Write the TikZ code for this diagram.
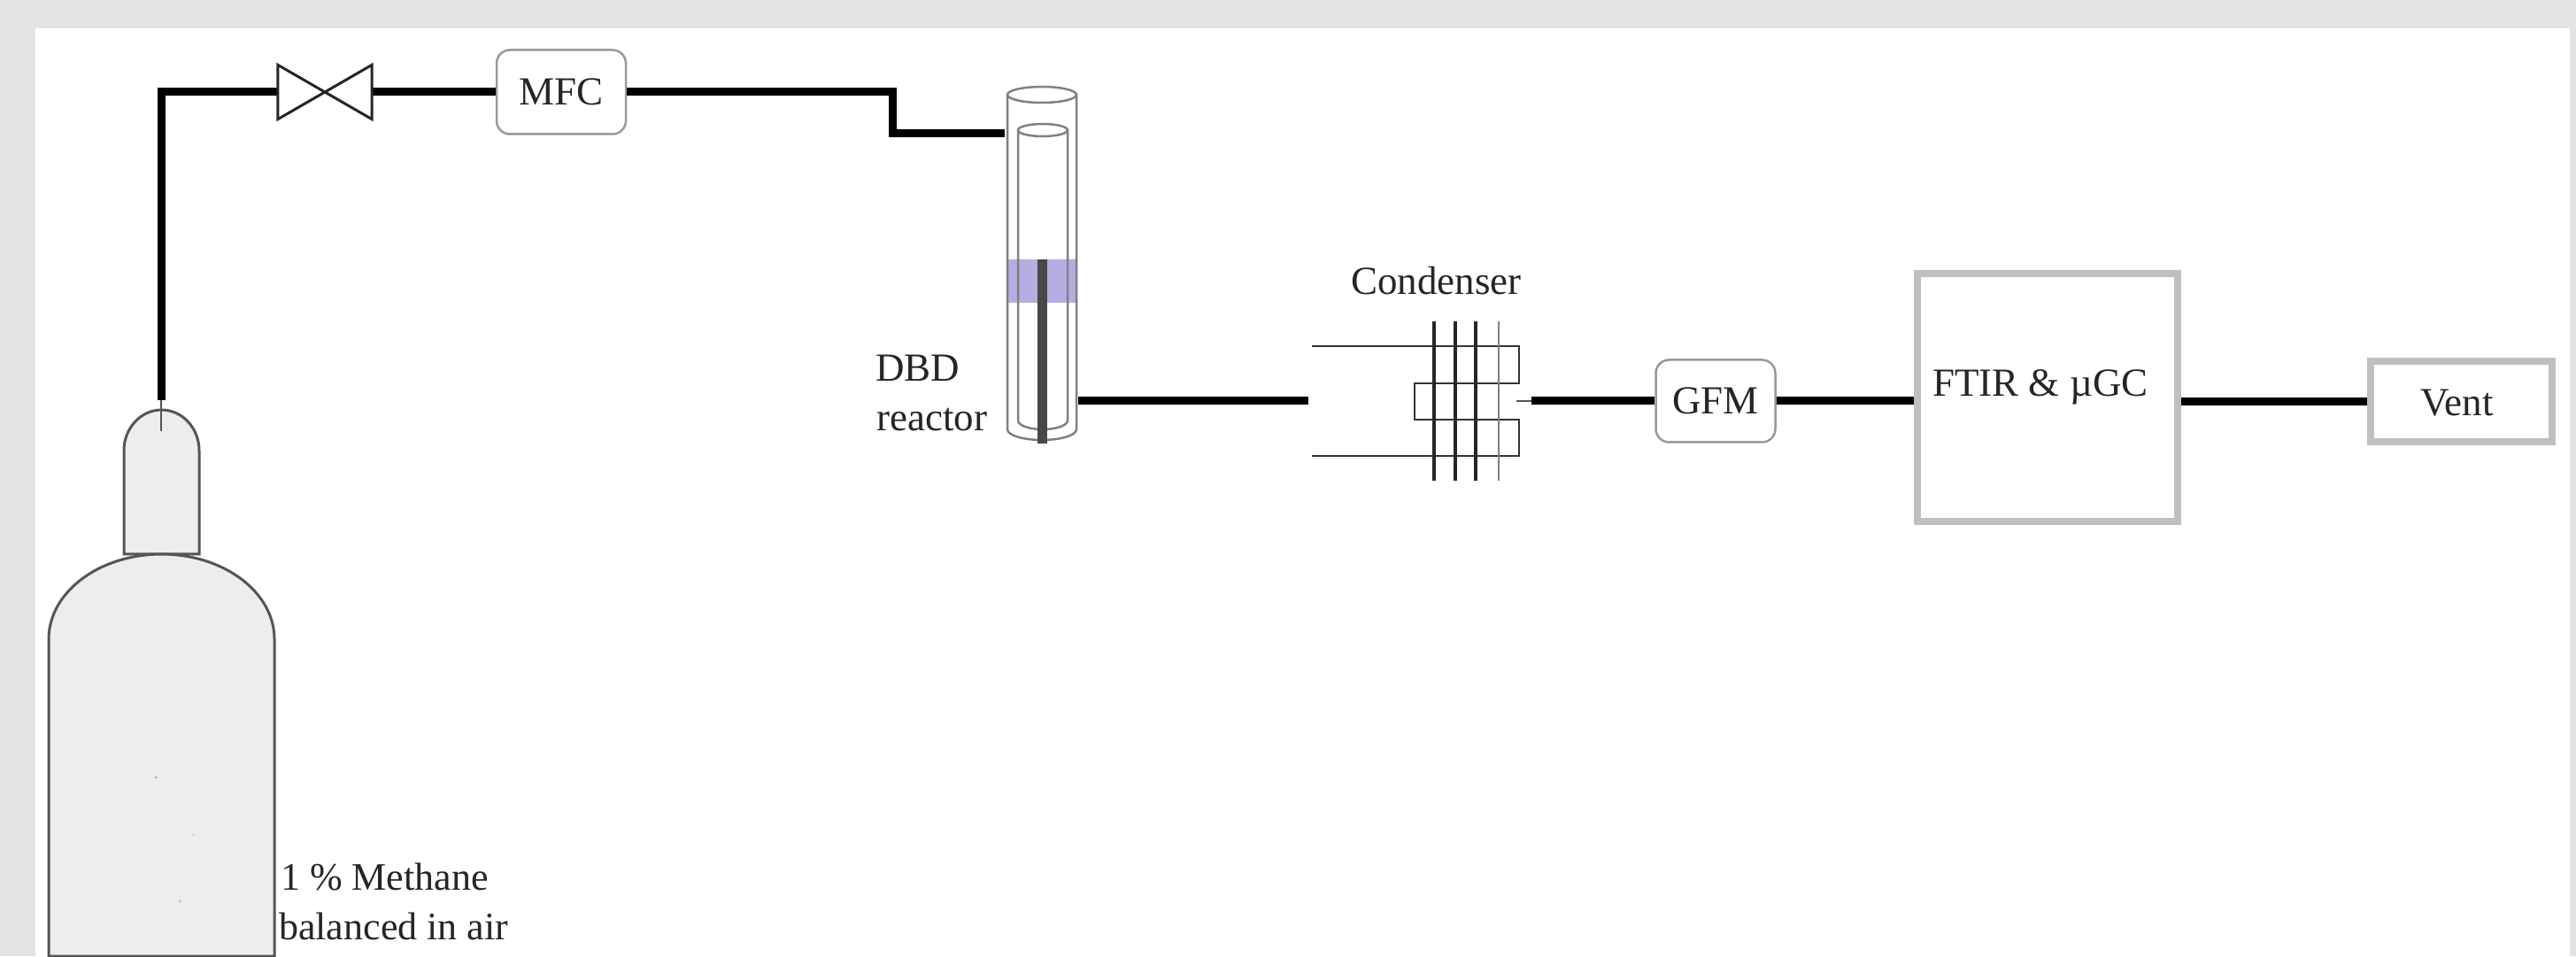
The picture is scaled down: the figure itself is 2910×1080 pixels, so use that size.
\documentclass[tikz,border=0pt]{standalone}
\usepackage{fontspec}
\setmainfont{Liberation Serif}
\definecolor{pagegray}{HTML}{E3E3E3}
\definecolor{bottlegray}{HTML}{EDEDED}
\definecolor{edgegray}{HTML}{555555}
\definecolor{boxgray}{HTML}{BFBFBF}
\definecolor{glassgray}{HTML}{808080}
\definecolor{plasma}{HTML}{B5ADE2}
\definecolor{rodgray}{HTML}{484848}
\definecolor{inkgray}{HTML}{262626}
\tikzset{
  pipe/.style = {line width = 9pt},
  thinpipe/.style = {line width = 2.5pt, draw = edgegray},
  roundbox/.style = {draw = gray!80, line width = 2.5pt, rounded corners = 15pt, fill = white, inner sep = 0pt},
  graybox/.style = {draw = boxgray, line width = 8pt, fill = white, inner sep = 0pt},
  glass/.style = {draw = glassgray, line width = 2.5pt},
  coil/.style = {draw = black!80, line width = 2.5pt},
  fin/.style = {draw = black!85, line width = 3.5pt},
  tag/.style = {inner sep = 0pt, anchor = base west, font = \fontsize{45}{45}\selectfont},
  smalltag/.style = {tag, font = \fontsize{44}{44}\selectfont}
}
\begin{document}
\begin{tikzpicture}[x = 1pt, y = 1pt, font = \fontsize{45}{45}\selectfont, text = inkgray]
\useasboundingbox (0, 0) rectangle (2910, 1080);
\fill[pagegray] (0, 0) rectangle (2910, 1080);
\fill[white] (40, 0) rectangle (2903, 1048);

\draw[fill = bottlegray, draw = edgegray, line width = 3pt] (140, 454) -- (140, 571) arc [start angle = 180, end angle = 0, x radius = 42.5, y radius = 46] -- (225, 454) -- cycle;
\draw[fill = bottlegray, draw = edgegray, line width = 3pt] (55, 0) -- (55, 358) arc [start angle = 180, end angle = 0, x radius = 127.5, y radius = 96] -- (310, 0) -- cycle;
\fill[gray!70] (176, 202) circle (1.5);
\fill[gray!35] (218, 137) circle (1.5);
\fill[gray!60] (203, 62) circle (1.5);

\coordinate (bottletop) at (182, 628);
\coordinate (bottlein) at (182, 593);
\coordinate (bend) at (1008, 929);
\coordinate (reactorin) at (1135, 929);
\coordinate (reactorout) at (1218, 627);
\coordinate (condin) at (1478, 627);
\coordinate (condstub) at (1713, 627);
\coordinate (condout) at (1730, 627);

\node (valve) [minimum width = 106pt, minimum height = 61pt, inner sep = 0pt] at (367, 976) {};
\node (mfc) [roundbox, minimum width = 146pt, minimum height = 95pt] at (634, 976) {MFC};
\node (gfm) [roundbox, minimum width = 135pt, minimum height = 93pt] at (1938, 627) {GFM};
\node (ftir) [graybox, minimum width = 294pt, minimum height = 280pt] at (2313, 631) {};
\node (vent) [graybox, minimum width = 205pt, minimum height = 91pt] at (2780, 626) {};

\draw[pipe] (bottletop) |- (valve.west);
\draw[pipe] (valve.east) -- (mfc.west);
\draw[pipe] (mfc.east) -| (bend) -- (reactorin);
\draw[pipe] (reactorout) -- (condin);
\draw[pipe] (condout) -- (condout -| gfm.west);
\draw[pipe] (gfm.east) -- (gfm.east -| ftir.west);
\draw[pipe] (vent.west -| ftir.east) -- (vent.west);
\draw[thinpipe] (bottletop) -- (bottlein);
\draw[thinpipe] (condstub) -- (condout);
\draw[line width = 3pt, draw = black!85, fill = white] (valve.north west) -- (valve.south east) -- (valve.north east) -- (valve.south west) -- cycle;

\fill[plasma] (1138, 738) rectangle (1216, 787);
\draw[glass] (1138, 973) -- (1138, 595) arc [start angle = 180, end angle = 360, x radius = 39, y radius = 12] -- (1216, 973);
\draw[glass] (1177, 973) ellipse [x radius = 39, y radius = 9];
\draw[glass] (1150, 933) -- (1150, 605) arc [start angle = 180, end angle = 360, x radius = 28, y radius = 10] -- (1206, 933);
\draw[glass] (1178, 933) ellipse [x radius = 28, y radius = 7];
\draw[draw = rodgray, line width = 11pt] (1177, 787) -- (1177, 579);

\draw[coil] (1482, 689) -- (1716, 689) -- (1716, 647) -- (1598, 647) -- (1598, 606) -- (1716, 606) -- (1716, 565) -- (1482, 565);
\foreach \finx in {1620, 1644, 1667} {
  \draw[fin] (\finx, 717) -- (\finx, 537);
}
\draw[glass] (1693, 717) -- (1693, 537);

\node (ftirtext) [tag] at (2183, 632) {FTIR \& µGC};
\node (venttext) [tag] at (2734, 610) {Vent};
\node (condtext) [tag] at (1526, 747) {Condenser};
\node (dbdtext) [tag] at (989, 649) {DBD};
\node (reactortext) [tag] at (990, 593) {reactor};
\node (methanetext) [smalltag] at (317, 75) {1 \% Methane};
\node (airtext) [smalltag] at (315, 19) {balanced in air};
\end{tikzpicture}
\end{document}
